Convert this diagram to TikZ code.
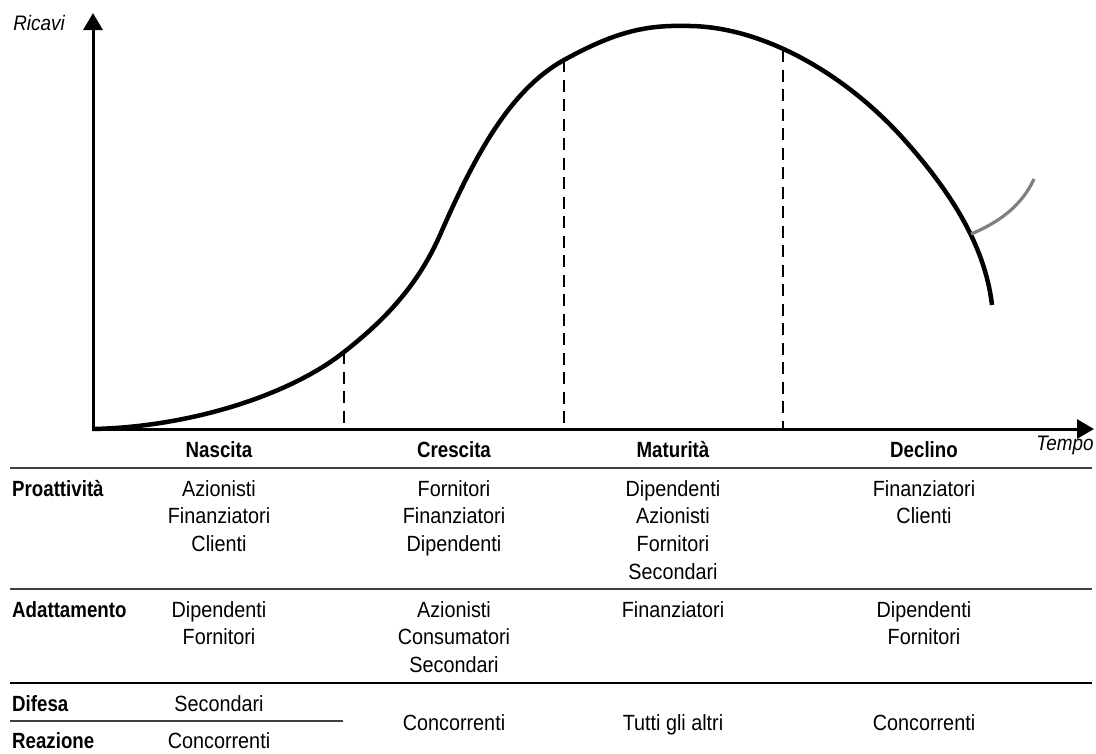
\documentclass[tikz,border=0pt]{standalone}
\usepackage{fontspec}
\setmainfont{Liberation Sans}[FakeStretch=0.9, BoldFeatures={FakeStretch=0.85}]
\usetikzlibrary{arrows.meta}
\usetikzlibrary{positioning}
\tikzstyle{phase} = [font=\fontsize{22}{27.7}\selectfont\bfseries, anchor=base, inner sep=0pt]
\tikzstyle{rowlabel} = [font=\fontsize{22}{27.7}\selectfont\bfseries, anchor=base west, inner sep=0pt]
\tikzstyle{cell} = [font=\fontsize{22}{27.7}\selectfont, align=center, anchor=north, inner sep=0pt]
\tikzstyle{axislabel} = [font=\fontsize{21}{27.7}\selectfont\itshape, inner sep=0pt]
\tikzstyle{axis} = [line width=3pt, {Triangle[length=17pt,width=19pt]}-{Triangle[length=17pt,width=19pt]}]
\tikzstyle{phaseline} = [line width=2.2pt, dash pattern=on 12pt off 7.5pt]
\tikzstyle{rule} = [line width=1.6pt, black!75]
\tikzstyle{thickrule} = [line width=2.6pt, black]

\begin{document}
\begin{tikzpicture}[x=1pt, y=-1pt]
        \useasboundingbox (0,0) rectangle (1096,753);
        \coordinate (origin) at (93,429);
        \coordinate (ytip) at (93,13);
        \coordinate (xtip) at (1094,429);
        \draw [axis] (ytip) -- (origin) -- (xtip);
        \node (ricavi) [axislabel] at (39,23) {Ricavi};
        \node (tempo) [axislabel] at (1065,445) {Tempo};

        % life cycle curve
        \coordinate (b1) at (344,352);
        \coordinate (b2) at (564,60);
        \coordinate (b3) at (783,50);
        \coordinate (fork) at (971,234);
        \draw [line width=4.5pt] (origin) .. controls (190,427) and (290,395) .. (b1)
            .. controls (385,320) and (418,285) .. (440,235)
            .. controls (475,155) and (510,90) .. (b2)
            .. controls (620,29) and (650,25) .. (690,26)
            .. controls (760,27) and (840,70) .. (900,135)
            .. controls (950,190) and (985,245) .. (992,305);
        \draw [line width=3.2pt, black!50] (fork) .. controls (1000,222) and (1022,205) .. (1034,179);
        \draw [phaseline] (b1) -- (b1 |- origin);
        \draw [phaseline] (b2) -- (b2 |- origin);
        \draw [phaseline] (b3) -- (b3 |- origin);

        % table
        \node (nascita) [phase] at (219,457) {Nascita};
        \node (crescita) [phase] at (454,457) {Crescita};
        \node (maturita) [phase] at (673,457) {Maturità};
        \node (declino) [phase] at (924,457) {Declino};
        \draw [rule] (10,468) -- (1092,468);
        \draw [rule] (10,589) -- (1092,589);
        \draw [thickrule] (10,683) -- (1092,683);
        \draw [rule] (10,721) -- (343,721);

        \node (proattivita) [rowlabel] at (12,496) {Proattività};
        \node (adattamento) [rowlabel] at (12,617) {Adattamento};
        \node (difesa) [rowlabel] at (12,711) {Difesa};
        \node (reazione) [rowlabel] at (12,748) {Reazione};

        \node (nascita_pro) [cell] at (219,480) {Azionisti\\Finanziatori\\Clienti};
        \node (nascita_ada) [cell] at (219,601) {Dipendenti\\Fornitori};
        \node (nascita_dif) [cell] at (219,695) {Secondari};
        \node (nascita_rea) [cell] at (219,732) {Concorrenti};
        \node (crescita_pro) [cell] at (454,480) {Fornitori\\Finanziatori\\Dipendenti};
        \node (crescita_ada) [cell] at (454,601) {Azionisti\\Consumatori\\Secondari};
        \node (crescita_dr) [cell] at (454,714) {Concorrenti};
        \node (maturita_pro) [cell] at (673,480) {Dipendenti\\Azionisti\\Fornitori\\Secondari};
        \node (maturita_ada) [cell] at (673,601) {Finanziatori};
        \node (maturita_dr) [cell] at (673,714) {Tutti gli altri};
        \node (declino_pro) [cell] at (924,480) {Finanziatori\\Clienti};
        \node (declino_ada) [cell] at (924,601) {Dipendenti\\Fornitori};
        \node (declino_dr) [cell] at (924,714) {Concorrenti};
\end{tikzpicture}
\end{document}
